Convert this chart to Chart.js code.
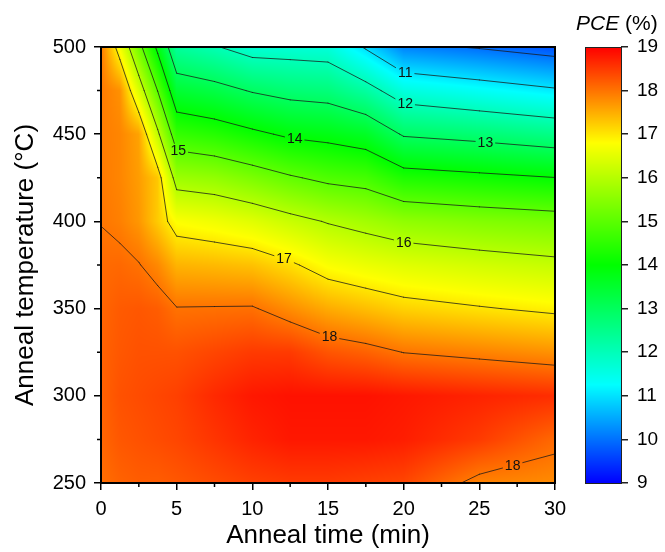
<!DOCTYPE html>
<html>
<head>
<meta charset="utf-8">
<script src="https://cdn.jsdelivr.net/npm/chart.js@4.4.1/dist/chart.umd.min.js"></script>
<style>
html,body{margin:0;padding:0;background:#fff;}
#wrap{width:665px;height:552px;}
</style>
</head>
<body>
<div id="wrap"><canvas id="c" width="665" height="552"></canvas></div>
<script>
const annealTimes = [0, 1.25, 2.5, 3.75, 5, 7.5, 10, 12.5, 15, 17.5, 20, 25, 30];       // min
const annealTemps = [250, 275, 300, 325, 350, 375, 400, 425, 450, 475, 500];             // °C
// PCE (%) at each anneal temperature, one value per anneal time
const pceAt250 = [18.05, 18.15, 18.20, 18.20, 18.25, 18.35, 18.45, 18.50, 18.50, 18.45, 18.40, 17.875, 17.80];
const pceAt275 = [18.12, 18.25, 18.30, 18.35, 18.40, 18.55, 18.70, 18.80, 18.80, 18.80, 18.75, 18.50, 18.10];
const pceAt300 = [18.15, 18.30, 18.35, 18.40, 18.45, 18.65, 18.80, 18.85, 18.85, 18.85, 18.80, 18.70, 18.61];
const pceAt325 = [18.15, 18.25, 18.30, 18.30, 18.30, 18.40, 18.50, 18.50, 18.27, 18.16, 17.99, 17.87, 17.74];
const pceAt350 = [18.12, 18.22, 18.25, 18.20, 18.02, 18.03, 18.04, 17.78, 17.52, 17.36, 17.19, 17.04, 16.90];
const pceAt375 = [18.08, 18.10, 18.02, 17.82, 17.45, 17.40, 17.33, 17.08, 16.75, 16.59, 16.46, 16.30, 16.16];
const pceAt400 = [17.99, 17.90, 17.70, 17.25, 16.77, 16.64, 16.46, 16.20, 15.96, 15.78, 15.58, 15.42, 15.30];
const pceAt425 = [17.95, 17.85, 17.65, 17.28, 15.71, 15.60, 15.35, 15.07, 14.85, 14.74, 14.31, 14.16, 14.01];
const pceAt450 = [17.93, 17.85, 17.60, 16.12, 14.57, 14.40, 14.14, 13.89, 13.79, 13.60, 12.93, 12.76, 12.54];
const pceAt475 = [17.95, 17.75, 16.40, 14.98, 13.45, 13.25, 12.95, 12.76, 12.68, 12.27, 11.60, 11.34, 11.08];
const pceAt500 = [17.97, 16.70, 15.24, 13.83, 12.32, 12.05, 11.70, 11.69, 11.64, 10.93, 10.15, 9.95, 9.70];

const contourLevels = [10, 11, 12, 13, 14, 15, 16, 17, 18];
// contour labels: level, anneal time where the label sits, approximate temperature (to pick the branch)
const labelLevels = [11, 12, 13, 14, 15, 16, 17, 18, 18];
const labelTimes  = [20.1, 20.1, 25.4, 12.8, 5.1, 20.0, 12.1, 15.1, 27.2];
const labelNear   = [485, 468, 445, 447, 440, 391, 380, 334, 262];

const colorbarTicks = {min: 9, max: 19, step: 1};

// ---- helpers ----
const grid = [pceAt250, pceAt275, pceAt300, pceAt325, pceAt350, pceAt375,
              pceAt400, pceAt425, pceAt450, pceAt475, pceAt500];

const palette = [[9,[0,0,255]],[11.25,[0,255,255]],[14,[0,255,0]],[16.8,[255,255,0]],[19,[255,0,0]]];
function colorFor(v) {
  if (v <= palette[0][0]) return palette[0][1];
  for (let k = 0; k < palette.length - 1; k++) {
    const [a, ca] = palette[k], [b, cb] = palette[k + 1];
    if (v <= b) {
      const f = (v - a) / (b - a);
      return [ca[0] + (cb[0] - ca[0]) * f, ca[1] + (cb[1] - ca[1]) * f, ca[2] + (cb[2] - ca[2]) * f];
    }
  }
  return palette[palette.length - 1][1];
}
function locate(arr, v) {
  let i = 0;
  while (i < arr.length - 2 && v > arr[i + 1]) i++;
  let f = (v - arr[i]) / (arr[i + 1] - arr[i]);
  return [i, Math.max(0, Math.min(1, f))];
}
function pceAt(x, t) {
  const [i, fx] = locate(annealTimes, x);
  const [j, fy] = locate(annealTemps, t);
  const a = grid[j][i], b = grid[j][i + 1], c = grid[j + 1][i], d = grid[j + 1][i + 1];
  return (a * (1 - fx) + b * fx) * (1 - fy) + (c * (1 - fx) + d * fx) * fy;
}
function contourSegments(level) {
  const segs = [];
  for (let j = 0; j < annealTemps.length - 1; j++) {
    for (let i = 0; i < annealTimes.length - 1; i++) {
      const x0 = annealTimes[i], x1 = annealTimes[i + 1], t0 = annealTemps[j], t1 = annealTemps[j + 1];
      const v00 = grid[j][i], v10 = grid[j][i + 1], v01 = grid[j + 1][i], v11 = grid[j + 1][i + 1];
      const cross = (va, vb, pa, pb) => {
        if ((va < level) !== (vb < level)) {
          const f = (level - va) / (vb - va);
          return [pa[0] + (pb[0] - pa[0]) * f, pa[1] + (pb[1] - pa[1]) * f];
        }
        return null;
      };
      const eb = cross(v00, v10, [x0, t0], [x1, t0]);
      const er = cross(v10, v11, [x1, t0], [x1, t1]);
      const et = cross(v01, v11, [x0, t1], [x1, t1]);
      const el = cross(v00, v01, [x0, t0], [x0, t1]);
      const pts = [eb, er, et, el].filter(p => p);
      if (pts.length === 2) segs.push([pts[0], pts[1]]);
      else if (pts.length === 4) {
        const c = (v00 + v10 + v01 + v11) / 4;
        if ((c < level) === (v00 < level)) { segs.push([eb, er]); segs.push([et, el]); }
        else { segs.push([eb, el]); segs.push([er, et]); }
      }
    }
  }
  return segs;
}

const FONT = "'Liberation Sans', Arial, Helvetica, sans-serif";
const CB_GAP = 30, CB_WIDTH = 36;

const contourPlugin = {
  id: 'contourMap',
  afterLayout(chart) {
    const cb = chart.scales.cb;
    const left = chart.chartArea.right + CB_GAP + CB_WIDTH;
    cb.left = left; cb.right = chart.width;
  },
  beforeDatasetsDraw(chart) {
    const {ctx, chartArea: ca, scales: {x, y}} = chart;
    const L = Math.round(ca.left), T = Math.round(ca.top);
    const w = Math.round(ca.right) - L, h = Math.round(ca.bottom) - T;
    const off = document.createElement('canvas');
    off.width = w; off.height = h;
    const octx = off.getContext('2d');
    const img = octx.createImageData(w, h);
    const xs = [];
    for (let px = 0; px < w; px++) xs.push(x.getValueForPixel(L + px + 0.5));
    for (let py = 0; py < h; py++) {
      const t = y.getValueForPixel(T + py + 0.5);
      for (let px = 0; px < w; px++) {
        const col = colorFor(pceAt(xs[px], t));
        const k = (py * w + px) * 4;
        img.data[k] = col[0]; img.data[k + 1] = col[1]; img.data[k + 2] = col[2]; img.data[k + 3] = 255;
      }
    }
    octx.putImageData(img, 0, 0);
    ctx.drawImage(off, L, T);

    // contour segments
    const allSegs = contourLevels.map(l => ({level: l, segs: contourSegments(l)}));
    // labels
    ctx.save();
    ctx.font = `14px ${FONT}`;
    const labels = [];
    for (let k = 0; k < labelLevels.length; k++) {
      const lev = labelLevels[k], lx = labelTimes[k];
      const segs = allSegs.find(s => s.level === lev).segs;
      let best = null;
      segs.forEach(([p, q]) => {
        const lo = Math.min(p[0], q[0]), hi = Math.max(p[0], q[0]);
        if (lx >= lo && lx <= hi && hi > lo) {
          const f = (lx - p[0]) / (q[0] - p[0]);
          const t = p[1] + (q[1] - p[1]) * f;
          if (best === null || Math.abs(t - labelNear[k]) < Math.abs(best - labelNear[k])) best = t;
        }
      });
      if (best !== null) {
        const text = String(lev);
        labels.push({text, px: x.getPixelForValue(lx), py: y.getPixelForValue(best), w: ctx.measureText(text).width});
      }
    }
    ctx.beginPath();
    ctx.rect(ca.left, ca.top, ca.right - ca.left, ca.bottom - ca.top);
    labels.forEach(l => ctx.rect(l.px - l.w / 2 - 2, l.py - 7, l.w + 4, 14));
    ctx.clip('evenodd');
    ctx.strokeStyle = 'rgba(25,25,25,0.85)';
    ctx.lineWidth = 0.9;
    ctx.lineCap = 'round';
    allSegs.forEach(({segs}) => {
      segs.forEach(([p, q]) => {
        ctx.beginPath();
        ctx.moveTo(x.getPixelForValue(p[0]), y.getPixelForValue(p[1]));
        ctx.lineTo(x.getPixelForValue(q[0]), y.getPixelForValue(q[1]));
        ctx.stroke();
      });
    });
    ctx.restore();
    ctx.save();
    ctx.font = `14px ${FONT}`;
    ctx.fillStyle = '#111';
    ctx.textAlign = 'center';
    ctx.textBaseline = 'middle';
    labels.forEach(l => ctx.fillText(l.text, l.px, l.py + 0.5));
    ctx.restore();
  },
  afterDraw(chart) {
    const {ctx, chartArea: ca, scales: {x, y, cb}} = chart;
    ctx.save();
    // frame
    ctx.strokeStyle = '#000';
    ctx.lineWidth = 2;
    ctx.strokeRect(ca.left, ca.top, ca.right - ca.left, ca.bottom - ca.top);
    // minor ticks
    ctx.lineWidth = 1.5;
    ctx.beginPath();
    for (let v = 2.5; v < 30; v += 5) {
      const px = x.getPixelForValue(v);
      ctx.moveTo(px, ca.bottom); ctx.lineTo(px, ca.bottom + 4);
    }
    for (let v = 275; v < 500; v += 50) {
      const py = y.getPixelForValue(v);
      ctx.moveTo(ca.left, py); ctx.lineTo(ca.left - 4, py);
    }
    ctx.stroke();
    // colour bar
    const right = cb.left, left = right - CB_WIDTH;
    const top = Math.round(cb.top), bottom = Math.round(cb.bottom);
    for (let py = top; py < bottom; py++) {
      const c = colorFor(cb.getValueForPixel(py + 0.5));
      ctx.fillStyle = `rgb(${c[0]|0},${c[1]|0},${c[2]|0})`;
      ctx.fillRect(left, py, CB_WIDTH, 1);
    }
    ctx.strokeStyle = '#222';
    ctx.lineWidth = 1;
    ctx.strokeRect(left + 0.5, top + 0.5, CB_WIDTH, bottom - top);
    // colour bar title
    ctx.fillStyle = '#000';
    ctx.textBaseline = 'alphabetic';
    ctx.textAlign = 'left';
    ctx.font = `italic 21px ${FONT}`;
    const tx = 576, ty = 29.5;
    ctx.fillText('PCE', tx, ty);
    const wP = ctx.measureText('PCE').width;
    ctx.font = `21px ${FONT}`;
    ctx.fillText(' (%)', tx + wP, ty);
    ctx.restore();
  }
};

new Chart(document.getElementById('c'), {
  type: 'scatter',
  data: { datasets: [{ data: [], pointRadius: 0 }] },
  options: {
    responsive: false,
    animation: false,
    events: [],
    layout: { padding: { top: 47, left: 0, right: 0, bottom: 0 } },
    plugins: { legend: { display: false }, tooltip: { enabled: false } },
    scales: {
      x: {
        type: 'linear', position: 'bottom', min: 0, max: 30,
        ticks: { stepSize: 5, color: '#000', font: { family: FONT, size: 20 }, padding: 7, maxRotation: 0 },
        grid: { drawOnChartArea: false, tickLength: 7, color: '#000', lineWidth: 1.5 },
        border: { display: true, color: '#000', width: 2 },
        title: { display: true, text: 'Anneal time (min)', color: '#000', font: { family: FONT, size: 26, lineHeight: 1 }, padding: { bottom: 3 } },
        afterFit: s => { s.height = 69; }
      },
      y: {
        type: 'linear', position: 'left', min: 250, max: 500,
        ticks: { stepSize: 50, color: '#000', font: { family: FONT, size: 20 }, padding: 8 },
        grid: { drawOnChartArea: false, tickLength: 7, color: '#000', lineWidth: 1.5 },
        border: { display: true, color: '#000', width: 2 },
        title: { display: true, text: 'Anneal temperature (°C)', color: '#000', font: { family: FONT, size: 26, lineHeight: 1 }, padding: { top: 13 } },
        afterFit: s => { s.width = 101; }
      },
      cb: {
        type: 'linear', position: 'right', min: colorbarTicks.min, max: colorbarTicks.max,
        ticks: { stepSize: colorbarTicks.step, color: '#000', font: { family: FONT, size: 19 }, padding: 9 },
        grid: { drawOnChartArea: false, tickLength: 7, color: '#222', lineWidth: 1.5 },
        border: { display: false },
        afterFit: s => { s.width = 110; }
      }
    }
  },
  plugins: [contourPlugin]
});
</script>
</body>
</html>
